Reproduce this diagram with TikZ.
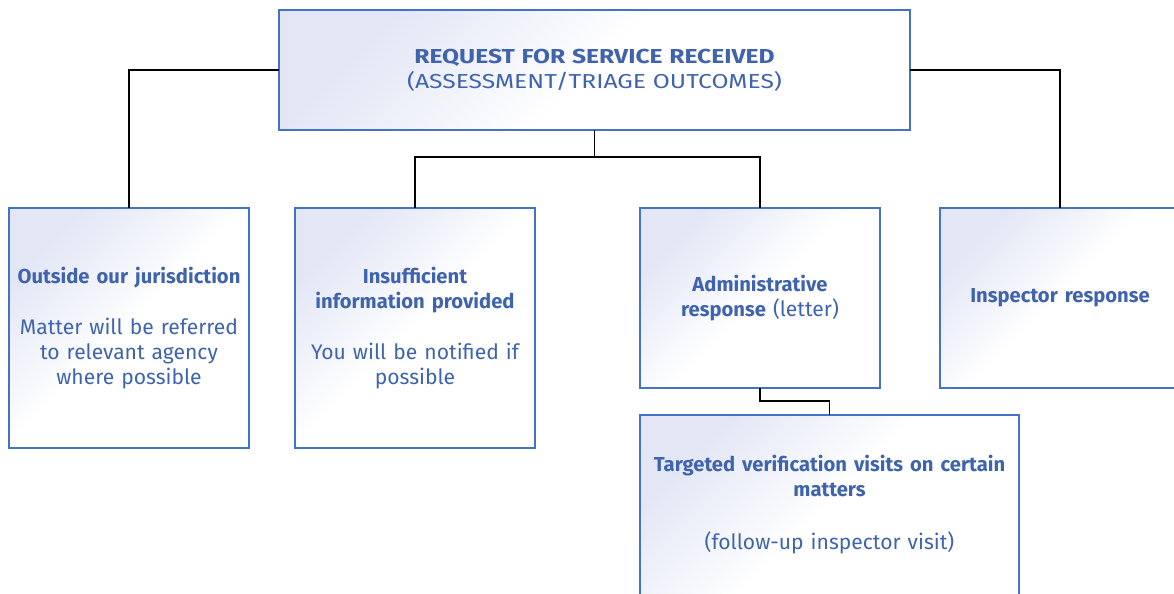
\documentclass[tikz,border=0pt]{standalone}
\usepackage{fontspec}
\setmainfont{Fira Sans}
\newfontfamily\headfont[FakeStretch=1.22]{Fira Sans}
\usetikzlibrary{positioning}
\definecolor{boxline}{RGB}{68,114,196}
\definecolor{boxtext}{RGB}{64,99,174}
\definecolor{boxtint}{RGB}{226,230,245}
\newcommand{\boxhead}[1]{{\fontsize{11.5}{14.2}\selectfont\bfseries #1}}

\begin{document}
\begin{tikzpicture}[font=\fontsize{12}{14.2}\selectfont,
  outcome/.style={draw=boxline,line width=0.75pt,outer sep=0pt,
    top color=boxtint,bottom color=white,middle color=white,shading angle=45,
    text=boxtext,align=center,inner sep=0.05cm,minimum width=4.8cm,text width=4.7cm},
  link/.style={line width=0.8pt}]
\useasboundingbox (0,0) rectangle (23.48,-11.86);
\clip (0,0) rectangle (23.48,-11.86);

\node[outcome,anchor=north west,minimum width=12.62cm,text width=12cm,minimum height=2.4cm,
  font=\headfont\fontsize{11.5}{14.2}\selectfont] (request) at (5.58,-0.2)
{\textbf{REQUEST FOR SERVICE RECEIVED}\\(ASSESSMENT/TRIAGE OUTCOMES)};
\node[outcome,anchor=north west,minimum height=4.8cm] (outside) at (0.18,-4.16)
{\boxhead{Outside our jurisdiction}\\[15pt]Matter will be referred\\to relevant agency\\where possible};
\node[outcome,minimum height=4.8cm,right=0.92cm of outside] (insufficient)
{\boxhead{Insufficient}\\\boxhead{information provided}\\[15pt]You will be notified if\\possible};
\node[outcome,minimum height=3.6cm,below right=0cm and 2.1cm of insufficient.north east] (admin)
{\boxhead{Administrative}\\\boxhead{response} (letter)};
\node[outcome,minimum height=3.6cm,right=1.2cm of admin] (inspector) {\boxhead{Inspector response}};
\node[outcome,minimum width=7.58cm,text width=7.4cm,minimum height=3.6cm,below right=0.54cm and 0cm of admin.south west] (verify)
{\boxhead{Targeted verification visits on certain}\\\boxhead{matters}\\[16pt](follow-up inspector visit)};

% tree links
\coordinate[below=0.54cm of request] (fork);
\coordinate[below=0.26cm of admin] (kink);
\draw[link] (request.west) -| (outside.north);
\draw[link] (request.east) -| (inspector.north);
\draw[link] (request.south) -- (fork) -| (insufficient.north);
\draw[link] (fork) -| (admin.north);
\draw[link] (admin.south) -- (kink) -| (verify.north);
\end{tikzpicture}
\end{document}
